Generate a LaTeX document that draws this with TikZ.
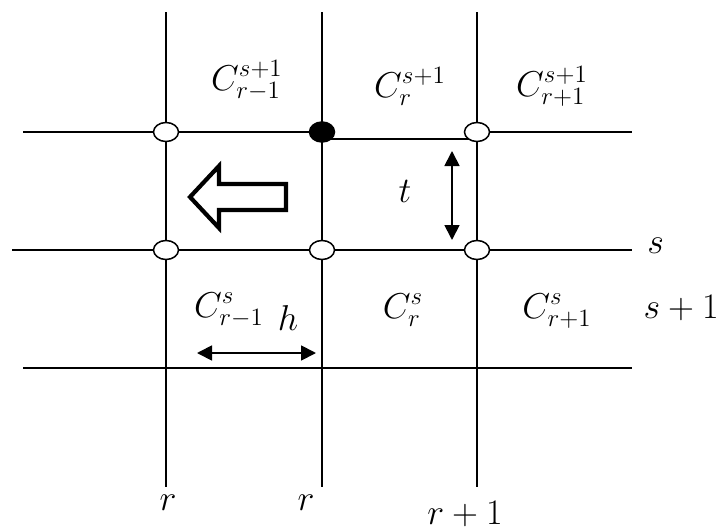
\documentclass[tikz,border=0pt]{standalone}
\usetikzlibrary{arrows.meta,shapes.geometric}
\begin{document}
\begin{tikzpicture}[x=1pt,y=-1pt,
  gridline/.style={line width=1.5pt},
  gpt/.style={draw, ellipse, line width=1.5pt, fill=white, minimum width=25pt, minimum height=19pt, inner sep=0pt},
  gptfill/.style={gpt, fill=black, minimum height=20pt},
  lab/.style={font=\fontsize{17.28}{20}\selectfont, scale=2.08, inner sep=0pt, anchor=base},
  dimarrow/.style={line width=1.8pt, {Triangle[length=15pt,width=15pt]}-{Triangle[length=15pt,width=15pt]}},
  blockarrow/.style={line width=4.2pt, line join=miter, miter limit=10}
]
\useasboundingbox (0,0) rectangle (720,530);

% grid coordinates
\coordinate (c11) at (166,132);
\coordinate (c12) at (322,132);
\coordinate (c13) at (477,132);
\coordinate (c21) at (166,250);
\coordinate (c22) at (322,250);
\coordinate (c23) at (477,250);
\coordinate (v1t) at (166,12);  \coordinate (v1b) at (166,487);
\coordinate (v2t) at (322,12);  \coordinate (v2b) at (322,487);
\coordinate (v3t) at (477,12);  \coordinate (v3b) at (477,487);
\coordinate (h1l) at (23,132);  \coordinate (h1r) at (632,132);
\coordinate (m1) at (322,139);  \coordinate (m2) at (477,139);
\coordinate (h2l) at (12,250);  \coordinate (h2r) at (632,250);
\coordinate (h3l) at (23,368);  \coordinate (h3r) at (632,368);

% grid lines
\draw[gridline] (v1t) -- (v1b);
\draw[gridline] (v2t) -- (v2b);
\draw[gridline] (v3t) -- (v3b);
\draw[gridline] (h1l) -- (c12);
\draw[gridline] (m1) -- (m2);
\draw[gridline] (c13) -- (h1r);
\draw[gridline] (h2l) -- (h2r);
\draw[gridline] (h3l) -- (h3r);

% grid points
\node[gpt] (p11) at (c11) {};
\node[gptfill] (p12) at (c12) {};
\node[gpt] (p13) at (c13) {};
\node[gpt] (p21) at (c21) {};
\node[gpt] (p22) at (c22) {};
\node[gpt] (p23) at (c23) {};

% dimension arrows
\coordinate (t1) at (452,151); \coordinate (t2) at (452,240);
\draw[dimarrow] (t1) -- (t2);
\coordinate (hh1) at (197,353); \coordinate (hh2) at (316,353);
\draw[dimarrow] (hh1) -- (hh2);

% block arrow
\draw[blockarrow] (190,197) -- (219,166) -- (219,184) -- (286,184) -- (286,210) -- (219,210) -- (219,228) -- cycle;

% labels
\node[lab] (ctl) at (247,90) {$C^{s+1}_{r-1}$};
\node[lab] (ctm) at (410,97) {$C^{s+1}_{r}$};
\node[lab] (ctr) at (552,96) {$C^{s+1}_{r+1}$};
\node[lab] (cbl) at (229,317) {$C^{s}_{r-1}$};
\node[lab] (cbm) at (403,318) {$C^{s}_{r}$};
\node[lab] (cbr) at (557,318) {$C^{s}_{r+1}$};
\node[lab, anchor=base west] (ls) at (647,253) {$s$};
\node[lab, anchor=base east] (ls1) at (719,318) {$s+1$};
\node[lab] (lt) at (405,202) {$t$};
\node[lab] (lh) at (288,330) {$h$};
\node[lab] (lr1) at (168,510) {$r$};
\node[lab] (lr2) at (306,510) {$r$};
\node[lab] (lr3) at (465,524) {$r+1$};
\end{tikzpicture}
\end{document}
